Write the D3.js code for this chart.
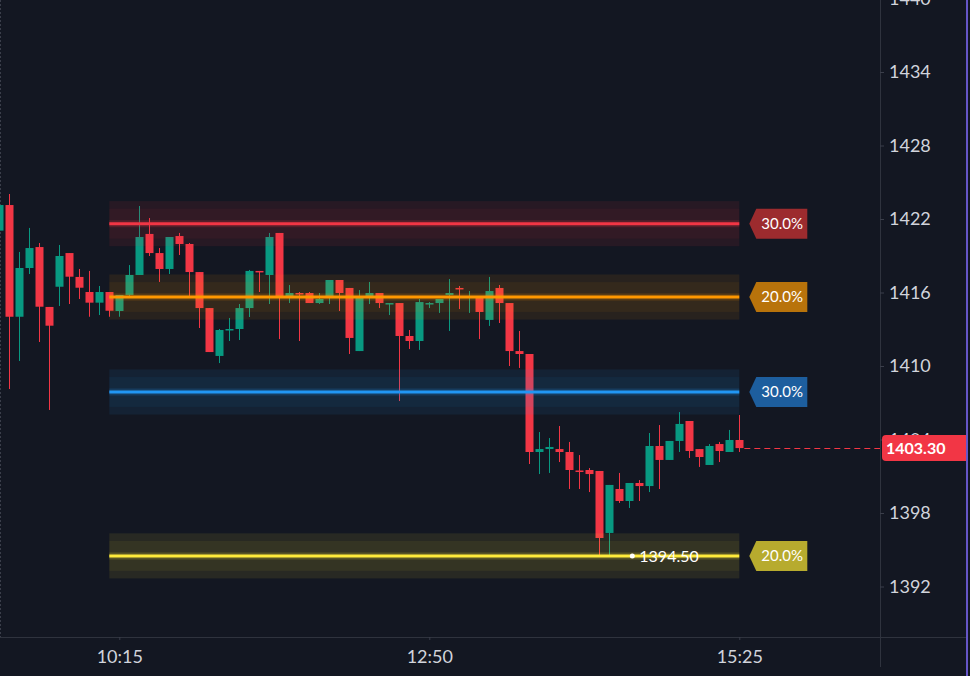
<!DOCTYPE html>
<html>
<head>
<meta charset="utf-8">
<script src="https://cdn.jsdelivr.net/npm/d3@7"></script>
<style>
  html, body { margin: 0; padding: 0; background: #131722; }
  svg { display: block; }
</style>
</head>
<body>
<div id="chart"></div>
<script>
var w = 970;
var h = 676;
var plotRight = 880;
var plotBottom = 637;

// 5 minute candles, 09:15 -> 15:25
var start = new Date(2024, 0, 1, 9, 15);
var end = new Date(2024, 0, 1, 15, 30);
var times = d3.timeMinute.every(5).range(start, end);

var open = [1421.05, 1423.14, 1414.02, 1418.0, 1419.71, 1414.82, 1416.47, 1419.22, 1417.27, 1416.04,
  1415.17, 1416.04, 1414.49, 1415.8, 1417.43, 1420.78, 1419.22, 1417.92, 1420.61, 1419.96,
  1417.67, 1414.73, 1410.82, 1412.98, 1413.02, 1414.73, 1417.76, 1417.43, 1420.86, 1415.71,
  1415.96, 1415.96, 1415.14, 1415.55, 1417.02, 1416.37, 1411.22, 1415.71, 1415.96, 1415.1,
  1415.14, 1412.45, 1412.04, 1415.1, 1415.14, 1415.8, 1416.37, 1415.63, 1415.63, 1413.76,
  1416.37, 1415.14, 1411.22, 1410.98, 1402.98, 1403.22, 1403.22, 1402.98, 1401.47, 1401.51,
  1401.43, 1396.37, 1399.96, 1398.98, 1400.45, 1400.2, 1403.47, 1402.33, 1403.88, 1405.51,
  1403.22, 1401.92, 1403.63, 1402.98, 1403.96];
var high = [1423.5, 1424.04, 1419.31, 1421.27, 1420.04, 1414.82, 1419.88, 1419.22, 1417.92, 1417.76,
  1416.53, 1416.04, 1415.8, 1418.24, 1423.06, 1422.08, 1419.63, 1420.53, 1420.86, 1420.04,
  1417.67, 1414.73, 1413.02, 1413.92, 1415.06, 1417.84, 1417.76, 1420.86, 1420.86, 1416.61,
  1416.04, 1416.04, 1415.96, 1417.02, 1417.02, 1416.37, 1416.2, 1416.86, 1415.96, 1415.14,
  1415.14, 1412.94, 1415.47, 1415.22, 1415.47, 1417.1, 1416.53, 1416.12, 1415.63, 1417.27,
  1416.61, 1415.14, 1412.86, 1410.98, 1404.61, 1404.12, 1405.1, 1403.8, 1402.73, 1401.67,
  1401.43, 1400.29, 1401.27, 1400.45, 1400.69, 1404.53, 1405.18, 1403.88, 1406.24, 1405.51,
  1403.22, 1403.63, 1403.8, 1404.78, 1406.0];
var low = [1420.6, 1408.12, 1410.41, 1417.51, 1411.96, 1406.41, 1414.9, 1415.06, 1415.47, 1414.02,
  1414.16, 1414.02, 1414.02, 1415.63, 1417.43, 1418.98, 1416.86, 1417.51, 1419.06, 1415.71,
  1413.1, 1411.14, 1410.24, 1412.04, 1412.12, 1414.0, 1416.04, 1415.06, 1412.2, 1415.14,
  1412.04, 1415.14, 1415.06, 1415.06, 1414.49, 1410.98, 1411.22, 1415.06, 1414.73, 1414.16,
  1407.14, 1411.39, 1411.31, 1414.73, 1414.33, 1412.86, 1414.65, 1414.33, 1412.2, 1413.27,
  1413.51, 1410.0, 1409.84, 1402.0, 1401.18, 1401.27, 1402.16, 1399.96, 1399.96, 1399.71,
  1394.5, 1394.5, 1398.82, 1398.41, 1398.98, 1399.71, 1399.96, 1402.33, 1402.98, 1402.49,
  1401.76, 1401.92, 1402.16, 1402.98, 1402.98];
var close = [1423.14, 1414.02, 1418.0, 1419.63, 1414.84, 1413.29, 1418.98, 1417.29, 1416.39, 1415.17,
  1416.04, 1414.51, 1415.8, 1417.43, 1420.53, 1419.22, 1417.92, 1420.53, 1419.96, 1417.67,
  1414.73, 1411.14, 1412.94, 1413.02, 1414.73, 1417.76, 1417.67, 1420.53, 1415.71, 1415.96,
  1415.92, 1415.14, 1415.47, 1417.02, 1415.96, 1412.29, 1415.63, 1415.96, 1415.14, 1415.14,
  1412.45, 1412.04, 1415.22, 1415.14, 1415.47, 1415.96, 1416.29, 1415.71, 1414.41, 1416.12,
  1415.14, 1411.22, 1410.98, 1402.98, 1403.22, 1403.39, 1402.98, 1401.51, 1401.43, 1401.18,
  1395.96, 1400.29, 1398.98, 1400.45, 1400.2, 1403.47, 1402.33, 1403.88, 1405.27, 1403.06,
  1402.57, 1403.47, 1403.06, 1403.96, 1403.3];

// levels drawn from 10:10 to 15:25
var levelNames = ["red", "orange", "blue", "yellow"];
var levelPrices = [1421.62, 1415.63, 1407.88, 1394.5];
var levelLabels = ["30.0%", "20.0%", "30.0%", "20.0%"];
var levelColors = ["#f23645", "#ff9800", "#2196f3", "#ffeb3b"];
var tagColors = ["#9c2b2e", "#b8730b", "#1d5e9e", "#b7ab2e"];
var levelStart = new Date(2024, 0, 1, 10, 10);
var levelEnd = new Date(2024, 0, 1, 15, 25);

var yTicks = [1392, 1398, 1404, 1410, 1416, 1422, 1428, 1434, 1440];
var xTicks = [new Date(2024, 0, 1, 10, 15), new Date(2024, 0, 1, 12, 50), new Date(2024, 0, 1, 15, 25)];
var lastPrice = 1403.30;
var dayLow = 1394.50;
var dayLowTime = new Date(2024, 0, 1, 15, 25);

var candles = times.map(function(t, i) {
    return {t: t, o: open[i], h: high[i], l: low[i], c: close[i]};
});

var xScale = d3.scaleTime()
    .domain([new Date(2024, 0, 1, 9, 20), new Date(2024, 0, 1, 15, 25)])
    .range([9.3, 739.3]);
var yScale = d3.scaleLinear()
    .domain([1388, 1440])
    .range([635.5, -1.5]);

var svg = d3.select("#chart")
    .append("svg")
    .attr("width", w)
    .attr("height", h)
    .style("background", "#131722");

// left dashed edge
svg.append("line")
    .attr("x1", 0.5).attr("x2", 0.5).attr("y1", 0).attr("y2", plotBottom)
    .attr("stroke", "#3a3e4a").attr("stroke-dasharray", "2,2");

// candles
var green = "#089981";
var red = "#f23645";
var gC = svg.append("g");
var cg = gC.selectAll("g")
    .data(candles)
    .enter()
    .append("g");
cg.append("line")
    .attr("x1", function(d) { return Math.round(xScale(d.t)) + 0.5; })
    .attr("x2", function(d) { return Math.round(xScale(d.t)) + 0.5; })
    .attr("y1", function(d) { return yScale(d.h); })
    .attr("y2", function(d) { return yScale(d.l); })
    .attr("stroke", function(d) { return d.c >= d.o ? green : red; })
    .attr("stroke-width", 1);
cg.append("rect")
    .attr("x", function(d) { return Math.round(xScale(d.t)) - 3.5; })
    .attr("width", 8)
    .attr("y", function(d) { return yScale(Math.max(d.o, d.c)); })
    .attr("height", function(d) {
        return Math.max(1.5, Math.abs(yScale(d.o) - yScale(d.c)));
    })
    .attr("fill", function(d) { return d.c >= d.o ? green : red; });

// level bands
var bandOuter = 1.84;
var bandInner = 1.22;
var lx1 = xScale(levelStart);
var lx2 = xScale(levelEnd);
levelPrices.forEach(function(p, i) {
    var col = levelColors[i];
    var g = svg.append("g").attr("class", "level-" + levelNames[i]);
    g.append("rect")
        .attr("x", lx1).attr("width", lx2 - lx1)
        .attr("y", yScale(p + bandOuter))
        .attr("height", yScale(p - bandOuter) - yScale(p + bandOuter))
        .attr("fill", col).attr("fill-opacity", 0.09);
    g.append("rect")
        .attr("x", lx1).attr("width", lx2 - lx1)
        .attr("y", yScale(p + bandInner))
        .attr("height", yScale(p - bandInner) - yScale(p + bandInner))
        .attr("fill", col).attr("fill-opacity", 0.06);
    g.append("line")
        .attr("x1", lx1).attr("x2", lx2)
        .attr("y1", yScale(p)).attr("y2", yScale(p))
        .attr("stroke", col).attr("stroke-width", 7).attr("stroke-opacity", 0.18);
    g.append("line")
        .attr("x1", lx1).attr("x2", lx2)
        .attr("y1", yScale(p)).attr("y2", yScale(p))
        .attr("stroke", col).attr("stroke-width", 3);

    // tag
    var cy = yScale(p);
    var tx = lx2 + 10;
    g.append("path")
        .attr("d", "M" + tx + "," + cy + "L" + (tx + 7) + "," + (cy - 15) + "H" + (tx + 58) +
            "V" + (cy + 15) + "H" + (tx + 7) + "Z")
        .attr("fill", tagColors[i]);
    g.append("text")
        .attr("x", tx + 12).attr("y", cy)
        .attr("dy", "0.36em")
        .attr("fill", "#ffffff")
        .attr("font-family", "Lato, sans-serif")
        .attr("font-size", "15px")
        .text(levelLabels[i]);
});

// day low marker
svg.append("circle")
    .attr("cx", xScale(dayLowTime) - 107).attr("cy", yScale(dayLow))
    .attr("r", 2.5).attr("fill", "#ffffff");
svg.append("text")
    .attr("x", xScale(dayLowTime) - 100).attr("y", yScale(dayLow))
    .attr("dy", "0.36em")
    .attr("fill", "#ffffff")
    .attr("font-family", "Lato, sans-serif")
    .attr("font-size", "16px")
    .text(d3.format(".2f")(dayLow));

// last price dashed line
svg.append("line")
    .attr("x1", xScale(times[times.length - 1]) + 5).attr("x2", plotRight)
    .attr("y1", Math.round(yScale(lastPrice)) + 0.5).attr("y2", Math.round(yScale(lastPrice)) + 0.5)
    .attr("stroke", red).attr("stroke-dasharray", "6,4");

// axis frame
svg.append("line")
    .attr("x1", 0).attr("x2", 966).attr("y1", plotBottom + 0.5).attr("y2", plotBottom + 0.5)
    .attr("stroke", "#2f333e");
svg.append("line")
    .attr("x1", plotRight + 0.5).attr("x2", plotRight + 0.5).attr("y1", 0).attr("y2", 667)
    .attr("stroke", "#2f333e");
svg.append("line")
    .attr("x1", 967).attr("x2", 967).attr("y1", 0).attr("y2", h)
    .attr("stroke", "#6656c8").attr("stroke-width", 2);

var yAxis = d3.axisRight(yScale).tickValues(yTicks).tickSize(4).tickPadding(5)
    .tickFormat(d3.format("d"));
var gy = svg.append("g")
    .attr("transform", "translate(" + plotRight + ",0)")
    .call(yAxis);
var xAxis = d3.axisBottom(xScale).tickValues(xTicks).tickSize(3).tickPadding(10)
    .tickFormat(d3.timeFormat("%H:%M"));
var gx = svg.append("g")
    .attr("transform", "translate(0," + plotBottom + ")")
    .call(xAxis);
[gx, gy].forEach(function(g) {
    g.select(".domain").remove();
    g.selectAll(".tick line").attr("stroke", "#3a3e4a");
    g.selectAll("text")
        .attr("fill", "#d1d4dc")
        .attr("font-family", "Lato, sans-serif")
        .attr("font-size", "18px");
});

// last price tag on axis
var ty = yScale(lastPrice);
svg.append("path")
    .attr("d", "M" + (plotRight + 6) + "," + (ty - 13) + "H966V" + (ty + 13) + "H" + (plotRight + 6) +
        "Q" + (plotRight + 2) + "," + (ty + 13) + " " + (plotRight + 2) + "," + (ty + 9) +
        "V" + (ty - 9) + "Q" + (plotRight + 2) + "," + (ty - 13) + " " + (plotRight + 6) + "," + (ty - 13) + "Z")
    .attr("fill", red);
svg.append("text")
    .attr("x", plotRight + 6).attr("y", ty)
    .attr("dy", "0.36em")
    .attr("fill", "#ffffff")
    .attr("font-family", "Lato, sans-serif")
    .attr("font-weight", "bold")
    .attr("font-size", "16px")
    .text(d3.format(".2f")(lastPrice));
</script>
</body>
</html>
